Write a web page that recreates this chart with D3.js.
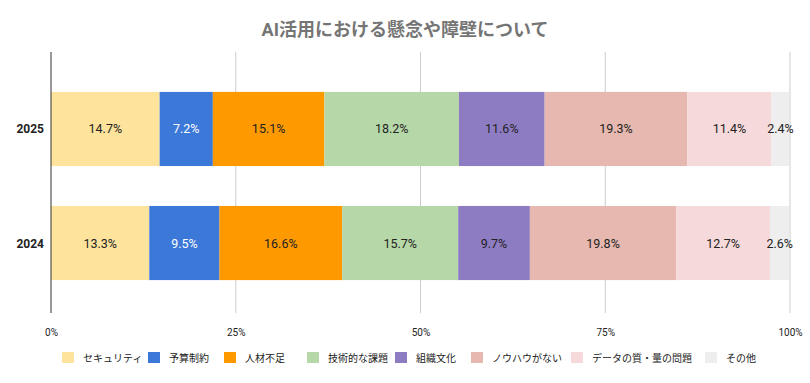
<!DOCTYPE html>
<html><head><meta charset="utf-8">
<script src="https://cdn.jsdelivr.net/npm/d3@7"></script>
<style>body{margin:0;background:#fff;}svg{display:block;font-family:Roboto,"Noto Sans CJK JP",sans-serif;}</style>
</head><body><div id="chart"></div>
<script>
const years = ["2025", "2024"];
const categories = ["セキュリティ","予算制約","人材不足","技術的な課題","組織文化","ノウハウがない","データの質・量の問題","その他"];
const values2025 = [14.7, 7.2, 15.1, 18.2, 11.6, 19.3, 11.4, 2.4];
const values2024 = [13.3, 9.5, 16.6, 15.7, 9.7, 19.8, 12.7, 2.6];
const colors = ["#fde39b","#3c78d8","#ff9900","#b6d7a8","#8e7cc3","#e6b8af","#f6d9da","#eeeeee"];
const labelColors = ["#222","#fff","#222","#222","#222","#222","#222","#222"];
const xTicks = [0, 25, 50, 75, 100];

const W = 810, H = 383;
const svg = d3.select("#chart").append("svg").attr("width", W).attr("height", H);
const x = d3.scaleLinear().domain([0, 100]).range([51, 790]);
const y = d3.scaleBand().domain(years).range([52, 320]).paddingInner(0.35).paddingOuter(0.35);

svg.append("text").attr("x", 405).attr("y", 36).attr("text-anchor", "middle")
  .attr("font-size", 18).attr("font-weight", "bold").attr("fill", "#757575")
  .text("AI活用における懸念や障壁について");

// grid
svg.append("g").selectAll("line").data(xTicks.slice(1)).join("line")
  .attr("x1", d => x(d)).attr("x2", d => x(d)).attr("y1", 52).attr("y2", 313)
  .attr("stroke", "#cccccc").attr("stroke-width", 1);

const dataByYear = {"2025": values2025, "2024": values2024};
years.forEach(yr => {
  const vals = dataByYear[yr];
  let cum = 0;
  const segs = vals.map((v, i) => { const s = {i, v, x0: cum, x1: cum + v}; cum += v; return s; });
  const g = svg.append("g");
  g.selectAll("rect").data(segs).join("rect")
    .attr("x", d => x(d.x0)).attr("width", d => x(d.x1) - x(d.x0))
    .attr("y", y(yr)).attr("height", y.bandwidth())
    .attr("fill", d => colors[d.i]);
  g.selectAll("text").data(segs).join("text")
    .attr("x", d => (x(d.x0) + x(d.x1)) / 2).attr("y", y(yr) + y.bandwidth() / 2 + 4.5)
    .attr("text-anchor", "middle").attr("font-size", 12.5).attr("fill", d => labelColors[d.i])
    .text(d => d.v.toFixed(1) + "%");
  svg.append("text").attr("x", 44).attr("y", y(yr) + y.bandwidth() / 2 + 4.5)
    .attr("text-anchor", "end").attr("font-size", 12).attr("font-weight", "bold").attr("fill", "#222")
    .text(yr);
});

// zero axis
svg.append("line").attr("x1", x(0)).attr("x2", x(0)).attr("y1", 52).attr("y2", 313)
  .attr("stroke", "#333").attr("stroke-width", 1);

// x axis labels
const xAxis = d3.axisBottom(x).tickValues(xTicks).tickSize(0).tickFormat(d => d + "%");
const ax = svg.append("g").attr("transform", "translate(0,326)").call(xAxis);
ax.select(".domain").remove();
ax.selectAll("text").attr("font-size", 10).attr("fill", "#222").attr("font-family", "Roboto, sans-serif");

// legend
const legX = [62, 148, 224, 307, 395, 471, 571, 705];
const leg = svg.append("g").selectAll("g").data(categories).join("g")
  .attr("transform", (d, i) => `translate(${legX[i]},352)`);
leg.append("rect").attr("width", 12).attr("height", 11).attr("fill", (d, i) => colors[i]);
leg.append("text").attr("x", 21).attr("y", 9.5).attr("font-size", 10).attr("fill", "#222")
  .attr("font-family", "'Noto Sans CJK JP', sans-serif").text(d => d);
</script></body></html>
